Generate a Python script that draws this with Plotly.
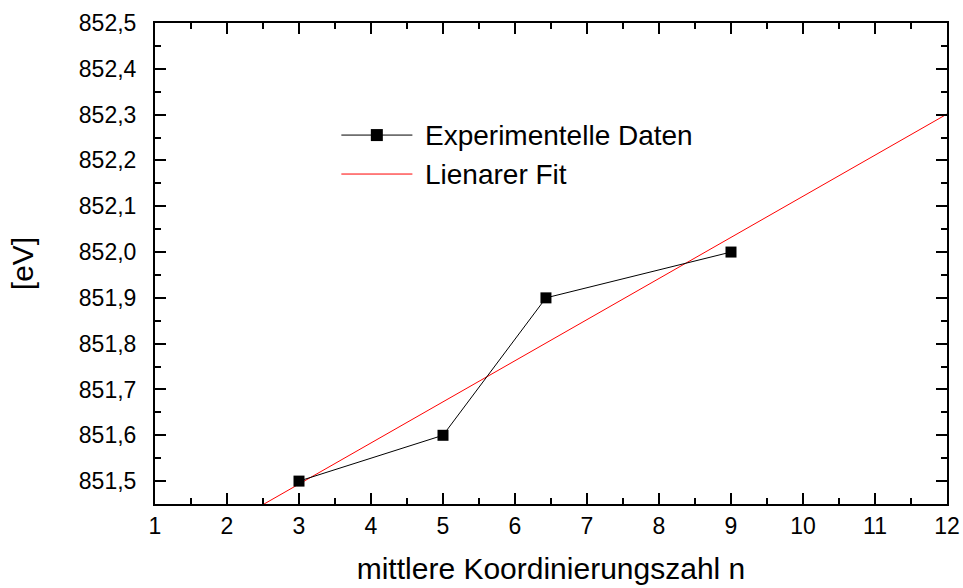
import numpy as np
import plotly.graph_objects as go

# Measured data: mean coordination number vs. binding energy
koordinationszahl = [3.0, 5.0, 6.43, 9.0]
energie_ev = [851.5, 851.6, 851.9, 852.0]

x_ticks = list(range(1, 13))
y_ticks = [851.5, 851.6, 851.7, 851.8, 851.9, 852.0, 852.1, 852.2, 852.3, 852.4, 852.5]

# Linear least-squares fit of the data
slope, intercept = np.polyfit(koordinationszahl, energie_ev, 1)
fit_x = np.array([1.0, 12.0])
fit_y = slope * fit_x + intercept

FONT = "Liberation Sans, Arial, Helvetica, sans-serif"

fig = go.Figure()
fig.add_trace(go.Scatter(
    x=fit_x, y=fit_y, mode="lines",
    line=dict(color="#ff0000", width=1),
    name="Lienarer Fit", showlegend=False,
))
fig.add_trace(go.Scatter(
    x=koordinationszahl, y=energie_ev, mode="lines+markers",
    line=dict(color="black", width=1),
    marker=dict(symbol="square", size=11, color="black"),
    name="Experimentelle Daten", showlegend=False,
))

axis_common = dict(
    showline=True, linecolor="black", linewidth=2, mirror="allticks",
    ticks="inside", ticklen=11, tickwidth=2, tickcolor="black",
    showgrid=False, zeroline=False, automargin=False,
    tickfont=dict(family=FONT, size=23, color="black"),
)

fig.update_xaxes(
    range=[1, 12], tickvals=x_ticks,
    minor=dict(ticks="inside", ticklen=6, tickwidth=2, tickcolor="black", dtick=0.5, showgrid=False),
    title=dict(text="mittlere Koordinierungszahl n", font=dict(family=FONT, size=30, color="black"), standoff=20),
    **axis_common,
)
fig.update_yaxes(
    range=[851.45, 852.5], tickvals=y_ticks, tickformat=".1f",
    ticklabelstandoff=12,
    minor=dict(ticks="inside", ticklen=6, tickwidth=2, tickcolor="black", dtick=0.05, tick0=851.45, showgrid=False),
    title=dict(text="[eV]", font=dict(family=FONT, size=30, color="black"), standoff=36),
    **axis_common,
)

# Legend block drawn inside the plot area
legend_items = [
    ("Experimentelle Daten", "black", True, 0.767),
    ("Lienarer Fit", "#ff0000", False, 0.686),
]
shapes = []
annotations = []
for label, color, has_marker, yp in legend_items:
    shapes.append(dict(type="line", xref="paper", yref="paper",
                       x0=0.2353, x1=0.3250, y0=yp, y1=yp,
                       line=dict(color=color, width=1)))
    if has_marker:
        shapes.append(dict(type="rect", xref="paper", yref="paper",
                           x0=0.2801 - 6 / 792, x1=0.2801 + 6 / 792,
                           y0=yp - 6 / 481, y1=yp + 6 / 481,
                           fillcolor="black", line=dict(width=0)))
    annotations.append(dict(xref="paper", yref="paper", x=0.3385, y=yp,
                            xanchor="left", yanchor="middle", showarrow=False,
                            text=label, font=dict(family=FONT, size=28, color="black")))

fig.update_layout(
    width=963, height=588,
    margin=dict(l=155, r=16, t=23, b=84),
    paper_bgcolor="white", plot_bgcolor="white",
    separators=",.",
    showlegend=False,
    shapes=shapes, annotations=annotations,
    font=dict(family=FONT, color="black"),
)

fig.write_html("out.html")
